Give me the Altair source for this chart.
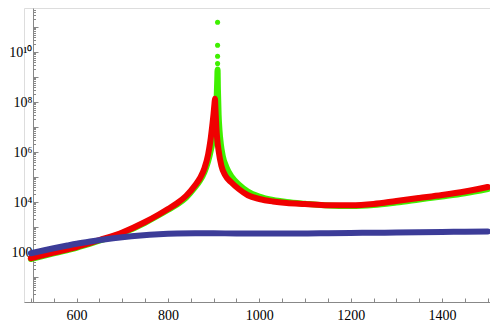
import altair as alt
import pandas as pd

# ---- data (y given as log10 exponents) ----
blue_x = [500, 520, 550, 580, 600, 630, 660, 700, 740, 780, 820, 860, 900, 950,
          1000, 1050, 1100, 1150, 1200, 1250, 1300, 1350, 1400, 1450, 1500]
blue_exp = [1.95, 2.03, 2.15, 2.26, 2.33, 2.42, 2.5, 2.59, 2.66, 2.71, 2.74, 2.75, 2.75, 2.74,
            2.74, 2.74, 2.74, 2.75, 2.76, 2.77, 2.78, 2.79, 2.8, 2.81, 2.82]

red_x = [500, 550, 600, 650, 700, 750, 780, 800, 820, 840, 860, 870, 880, 888, 893, 897, 900, 902, 903,
         904, 906, 908, 911, 917, 925, 939, 955, 975, 1000, 1030, 1060, 1100, 1150, 1200, 1250, 1300,
         1350, 1400, 1450, 1500]
red_exp = [1.75, 1.98, 2.2, 2.48, 2.78, 3.2, 3.5, 3.72, 3.95, 4.25, 4.68, 4.95, 5.35, 5.9, 6.45, 7.05, 7.55, 7.95, 8.13,
           7.75, 7.0, 6.5, 6.05, 5.45, 5.08, 4.78, 4.52, 4.27, 4.12, 4.02, 3.96, 3.92, 3.87, 3.87, 3.92, 4.04,
           4.16, 4.28, 4.42, 4.6]

green_x = [500, 550, 600, 650, 700, 750, 780, 800, 820, 840, 860, 870, 880, 888, 895, 900, 903, 905, 907, 908, 908.7,
           909.5, 911, 913, 916, 920, 928, 940, 955, 975, 1000, 1030, 1060, 1100, 1150, 1200, 1250, 1300,
           1350, 1400, 1450, 1500]
green_exp = [1.72, 1.95, 2.17, 2.45, 2.75, 3.17, 3.47, 3.68, 3.9, 4.18, 4.6, 4.85, 5.2, 5.62, 6.15, 6.65, 7.15, 7.65, 8.35, 8.9, 9.3,
             8.5, 7.5, 6.85, 6.3, 5.85, 5.4, 5.0, 4.7, 4.42, 4.22, 4.08, 4.0, 3.93, 3.86, 3.84, 3.88, 3.98,
             4.1, 4.22, 4.35, 4.52]

green_peak_x = [908.7, 908.7, 908.7, 908.7]
green_peak_exp = [9.54, 9.83, 10.27, 11.19]

x_label_values = [600, 800, 1000, 1200, 1400]
x_tick_values = list(range(500, 1501, 50))
y_label_exps = [2, 4, 6, 8, 10]
y_tick_labels = ["100", "10\u2074", "10\u2076", "10\u2078", "10\u00b9\u2070"]

colors = {"green": "#3ff000", "red": "#f00000", "blue": "#3c3c98"}

W, H = 466, 294
X_DOMAIN = [485, 1505]
Y_DOMAIN = [1, 10 ** 11.76]
FONT = "Liberation Serif"


def frame(xs, es):
    return pd.DataFrame({"x": xs, "v": [10 ** e for e in es]})


xs = alt.Scale(domain=X_DOMAIN, nice=False, zero=False)
ys = alt.Scale(type="log", domain=Y_DOMAIN, nice=False)

label_map = " : ".join(
    f"round(log(datum.value)/LN10) == {e} ? '{t}'" for e, t in zip(y_label_exps, y_tick_labels)
) + " : ''"

y_left_axis = alt.Axis(
    values=[10 ** e for e in y_label_exps], labelExpr=label_map, ticks=False, grid=False,
    offset=-9, domainColor="#888888", domainWidth=1, labelFont=FONT, labelFontSize=14,
    labelColor="#000000", labelPadding=1, title=None,
)
y_minor_vals = [k * 10 ** n for n in range(0, 12) for k in range(1, 10) if k * 10 ** n <= Y_DOMAIN[1]]
y_right_axis = alt.Axis(
    orient="right", values=y_minor_vals, labels=False, domain=False, grid=False,
    offset=-(W - 9), tickColor="#888888",
    tickSize={"condition": {"test": "abs(log(datum.value)/LN10 - round(log(datum.value)/LN10)) < 0.001", "value": 5}, "value": 2.5},
    title=None,
)
x_bottom_axis = alt.Axis(
    values=x_label_values, ticks=False, grid=False, domainColor="#888888", labelFont=FONT,
    labelFontSize=14, labelColor="#000000", labelPadding=6, title=None, format="d",
)
x_top_axis = alt.Axis(
    orient="top", values=x_tick_values, labels=False, domain=False, grid=False,
    offset=-H, tickColor="#888888", tickSize=4, title=None,
)


def line_layer(df, color, xaxis=None, yaxis=None):
    return alt.Chart(df).mark_line(
        color=color, strokeWidth=6, strokeCap="round", strokeJoin="round", interpolate="monotone"
    ).encode(
        x=alt.X("x:Q", scale=xs, axis=xaxis),
        y=alt.Y("v:Q", scale=ys, axis=yaxis),
    )


green = line_layer(frame(green_x, green_exp), colors["green"], x_bottom_axis, y_left_axis)
green_dots = alt.Chart(frame(green_peak_x, green_peak_exp)).mark_circle(
    color=colors["green"], size=26, opacity=1
).encode(
    x=alt.X("x:Q", scale=xs, axis=x_top_axis),
    y=alt.Y("v:Q", scale=ys, axis=y_right_axis),
)
red = line_layer(frame(red_x, red_exp), colors["red"])
blue = line_layer(frame(blue_x, blue_exp), colors["blue"])

chart = alt.layer(green, green_dots, red, blue).resolve_scale(
    x="shared", y="shared"
).resolve_axis(
    x="independent", y="independent"
).properties(
    width=W, height=H, padding={"left": 16, "top": 0, "right": 0, "bottom": 20},
    autosize=alt.AutoSizeParams(type="none"),
).configure_view(stroke=None).configure(background="white")

chart.save("out.html", embed_options={"renderer": "svg", "actions": False})
